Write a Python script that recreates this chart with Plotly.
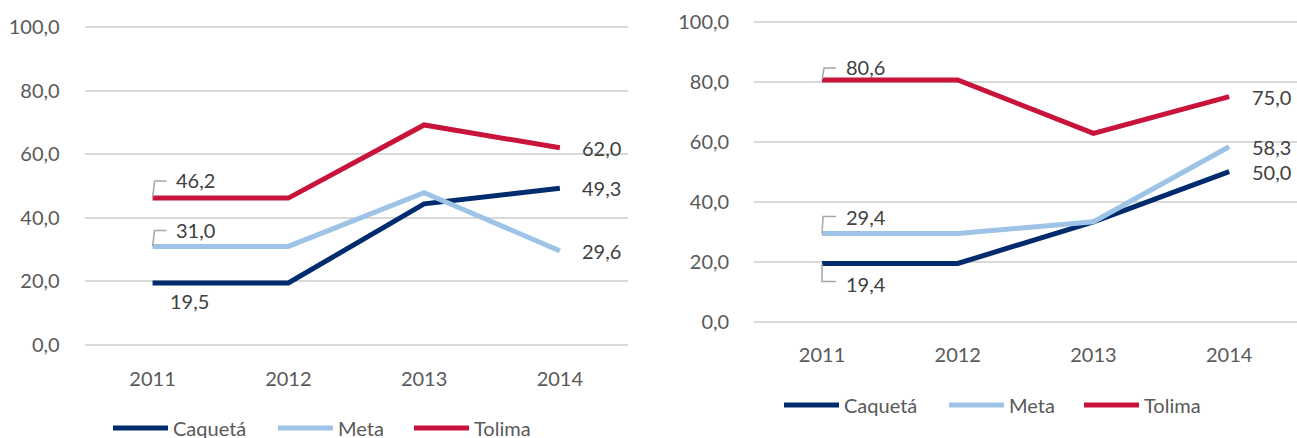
import plotly.graph_objects as go

years = ["2011", "2012", "2013", "2014"]
series_names = ["Caquetá", "Meta", "Tolima"]

# Left panel values
left_caqueta = [19.5, 19.5, 44.4, 49.3]
left_meta = [31.0, 31.0, 47.9, 29.6]
left_tolima = [46.2, 46.2, 69.2, 62.0]

# Right panel values
right_caqueta = [19.4, 19.4, 33.3, 50.0]
right_meta = [29.4, 29.4, 33.3, 58.3]
right_tolima = [80.6, 80.6, 62.8, 75.0]

colors = {"Caquetá": "#002C6E", "Meta": "#9DC3E6", "Tolima": "#C8133B"}
FONT = "Lato"
TICK_COLOR = "#595959"
LABEL_COLOR = "#404040"
W, H = 1297, 438

xi = list(range(len(years)))

fig = go.Figure()

# legend item positions (pixels: line start x, centre y)
legend_pos = {
    "left": {"Caquetá": (114, 428), "Meta": (279, 428), "Tolima": (415, 428)},
    "right": {"Caquetá": (785, 405), "Meta": (950, 405), "Tolima": (1085, 405)},
}

panels = [
    ("left", "x", "y", [left_caqueta, left_meta, left_tolima]),
    ("right", "x2", "y2", [right_caqueta, right_meta, right_tolima]),
]

legend_layouts = {}
lg_idx = 0
for side, xa, ya, vals in panels:
    for name, v in zip(series_names, vals):
        lg_idx += 1
        lg_name = "legend" if lg_idx == 1 else f"legend{lg_idx}"
        px, py = legend_pos[side][name]
        legend_layouts[lg_name] = dict(
            x=(px - 6) / W, y=1 - py / H, xanchor="left", yanchor="middle",
            orientation="h", font=dict(family=FONT, size=20, color=TICK_COLOR),
            bgcolor="rgba(0,0,0,0)", itemwidth=55,
            itemclick=False, itemdoubleclick=False,
        )
        fig.add_trace(go.Scatter(
            x=xi, y=v, name=name, mode="lines",
            line=dict(color=colors[name], width=5),
            xaxis=xa, yaxis=ya, legend=lg_name,
            hoverinfo="skip",
        ))

def fmt(v):
    return f"{v:.1f}".replace(".", ",")

annotations = []
shapes = []

def add_label(xa, ya, xidx, val, dx, dy, leader=None):
    annotations.append(dict(
        x=xidx, y=val, xref=xa, yref=ya, text=fmt(val), showarrow=False,
        xanchor="left", yanchor="middle", xshift=dx, yshift=dy,
        font=dict(family=FONT, size=20, color=LABEL_COLOR),
    ))
    if leader:
        shapes.append(dict(
            type="path", xref=xa, yref=ya, xsizemode="pixel", ysizemode="pixel",
            xanchor=xidx, yanchor=val, path=leader,
            line=dict(color="#A6A6A6", width=1.5),
        ))

# Left panel labels
add_label("x", "y", 0, left_tolima[0], 21, 18, "M0,0 L2,17 L14,17")
add_label("x", "y", 0, left_meta[0], 21, 16, "M0,0 L2,16 L14,16")
add_label("x", "y", 0, left_caqueta[0], 15, -18)
add_label("x", "y", 3, left_tolima[3], 20, 0)
add_label("x", "y", 3, left_caqueta[3], 20, 0)
add_label("x", "y", 3, left_meta[3], 20, 0)

# Right panel labels
add_label("x2", "y2", 0, right_tolima[0], 22, 13, "M0,0 L2,12 L14,12")
add_label("x2", "y2", 0, right_meta[0], 22, 17, "M0,0 L1,17 L14,17")
add_label("x2", "y2", 0, right_caqueta[0], 22, -20, "M0,0 L0,-18 L14,-18")
add_label("x2", "y2", 3, right_tolima[3], 21, 0)
add_label("x2", "y2", 3, right_meta[3], 21, 0)
add_label("x2", "y2", 3, right_caqueta[3], 21, 0)

xcommon = dict(
    tickmode="array", tickvals=xi, ticktext=years, range=[-0.5, 3.5],
    showgrid=False, zeroline=False, showline=False, ticks="",
    tickfont=dict(family=FONT, size=20, color=TICK_COLOR),
    ticklabelstandoff=18, fixedrange=True,
)
ycommon = dict(
    range=[-0.5, 100.5], tickvals=[0, 20, 40, 60, 80, 100], tickformat=".1f",
    showgrid=True, gridcolor="#D9D9D9", gridwidth=2,
    zeroline=False, showline=False, ticks="",
    tickfont=dict(family=FONT, size=20, color=TICK_COLOR),
    ticklabelstandoff=24, fixedrange=True,
)

fig.update_layout(
    width=W, height=H,
    margin=dict(l=0, r=0, t=0, b=0, autoexpand=False),
    paper_bgcolor="white", plot_bgcolor="white",
    separators=",.",
    xaxis=dict(domain=[0.0653, 0.484], anchor="y", **xcommon),
    yaxis=dict(domain=[0.2087, 0.942], anchor="x", **ycommon),
    xaxis2=dict(domain=[0.5815, 1.0], anchor="y2", **xcommon),
    yaxis2=dict(domain=[0.2621, 0.9539], anchor="x2", **ycommon),
    annotations=annotations,
    shapes=shapes,
    showlegend=True,
    **legend_layouts,
)

fig.write_html(
    "out.html",
    config={"displayModeBar": False},
    post_script="document.body.style.margin='0';",
)
